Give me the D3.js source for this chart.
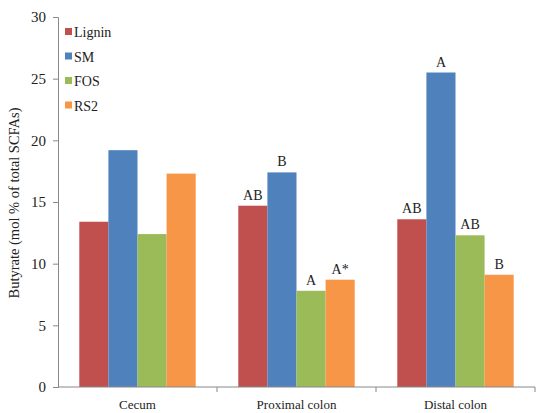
<!DOCTYPE html>
<html><head><meta charset="utf-8">
<script src="https://cdn.jsdelivr.net/npm/d3@7"></script>
<style>body{margin:0;background:#fff}svg{display:block}text{font-family:"Liberation Serif","Times New Roman",serif;fill:#222}</style>
</head><body>
<svg id="c" width="537" height="413"></svg>
<script>
const categories = ["Cecum", "Proximal colon", "Distal colon"];
const seriesNames = ["Lignin", "SM", "FOS", "RS2"];
const colors = ["#C0504D", "#4F81BD", "#9BBB59", "#F79646"];
const lignin = [13.4, 14.7, 13.6];
const sm = [19.2, 17.4, 25.5];
const fos = [12.4, 7.8, 12.3];
const rs2 = [17.3, 8.7, 9.1];
const letters = [["", "", "", ""], ["AB", "B", "A", "A*"], ["AB", "A", "AB", "B"]];
const yTicks = [0, 5, 10, 15, 20, 25, 30];
const values = [lignin, sm, fos, rs2];

const svg = d3.select("#c");
const L = 58, R = 535, T = 17, B = 387;
const x0 = d3.scaleBand().domain(categories).range([L, R]).paddingInner(0.268).paddingOuter(0.134);
const x1 = d3.scaleBand().domain(seriesNames).range([0, x0.bandwidth()]);
const y = d3.scaleLinear().domain([0, 30]).range([B, T]);

// bars
categories.forEach((c, ci) => {
  const g = svg.append("g").attr("transform", `translate(${x0(c)},0)`);
  seriesNames.forEach((s, si) => {
    const v = values[si][ci];
    g.append("rect").attr("x", x1(s)).attr("y", y(v)).attr("width", x1.bandwidth()).attr("height", y(0) - y(v)).attr("fill", colors[si]);
    if (letters[ci][si]) {
      g.append("text").attr("x", x1(s) + x1.bandwidth() / 2).attr("y", y(v) - 6).attr("text-anchor", "middle").attr("font-size", 14).text(letters[ci][si]);
    }
  });
});

// y axis
const yAxis = svg.append("g").attr("transform", `translate(${L},0)`).call(d3.axisLeft(y).tickValues(yTicks).tickSize(5).tickPadding(7));
yAxis.attr("font-family", null);
yAxis.select(".domain").attr("stroke", "#888");
yAxis.selectAll(".tick line").attr("stroke", "#888");
yAxis.selectAll(".tick text").attr("font-size", 15).attr("fill", "#222");

// x axis
const xg = svg.append("g").attr("transform", `translate(0,${B})`);
xg.append("line").attr("x1", L).attr("x2", R).attr("stroke", "#888");
const step = x0.step();
[1, 2, 3].forEach(i => {
  const xx = L + step * i;
  xg.append("line").attr("x1", xx).attr("x2", xx).attr("y1", 0).attr("y2", 5).attr("stroke", "#888");
});
categories.forEach(c => {
  xg.append("text").attr("x", x0(c) + x0.bandwidth() / 2).attr("y", 22).attr("text-anchor", "middle").attr("font-size", 13).text(c);
});

// y title
svg.append("text").attr("transform", `translate(19,203) rotate(-90)`).attr("text-anchor", "middle").attr("font-size", 14.5).text("Butyrate (mol % of total SCFAs)");

// legend
const lg = svg.append("g").attr("transform", "translate(65,28)");
seriesNames.forEach((s, i) => {
  const r = lg.append("g").attr("transform", `translate(0,${i * 24.5})`);
  r.append("rect").attr("width", 7).attr("height", 7).attr("fill", colors[i]);
  r.append("text").attr("x", 9).attr("y", 9).attr("font-size", 14).text(s);
});
</script>
</body></html>
